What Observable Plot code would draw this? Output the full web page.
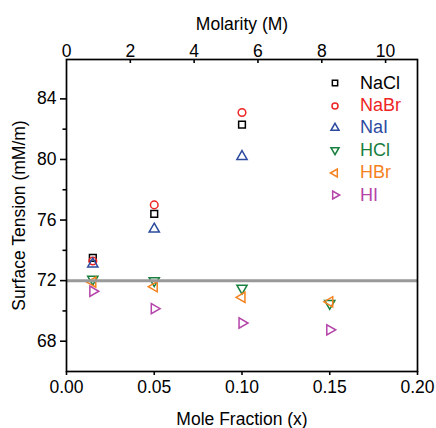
<!DOCTYPE html>
<html><head><meta charset="utf-8">
<script src="https://cdn.jsdelivr.net/npm/d3@7"></script>
<script src="https://cdn.jsdelivr.net/npm/@observablehq/plot@0.6"></script>
<style>
body{margin:0;background:#fff;}
#wrap{position:relative;width:436px;height:428px;font-family:Arial,"Liberation Sans",sans-serif;}
#legend{position:absolute;left:326px;top:72px;}
</style></head><body><div id="wrap"></div>
<script>
// ---- data ----
const moleFraction = [0.015, 0.05, 0.10, 0.15];
const series = ["NaCl", "NaBr", "NaI", "HCl", "HBr", "HI"];
const NaCl = [73.5, 76.4, 82.3];
const NaBr = [73.3, 77.0, 83.1];
const NaI = [73.1, 75.4, 80.2];
const HCl = [72.1, 72.0, 71.5, 70.5];
const HBr = [71.9, 71.6, 70.9, 70.6];
const HI = [71.3, 70.15, 69.2, 68.75];
const xTicks = [0, 0.05, 0.10, 0.15, 0.20];
const yTicks = [68, 72, 76, 80, 84];
const yMinorTicks = [70, 74, 78, 82];
const molarityTicks = [0, 2, 4, 6, 8, 10];
const molarityMax = 11;
const waterTension = 72;

// ---- styles ----
const colors = ["#000000", "#ee2424", "#2c4b9f", "#18803e", "#f5821f", "#b543a9"];
const symbols = ["square", "circle", "triangle", "triangle", "triangle", "triangle"];
const rotations = [0, 0, 0, 180, 270, 90];
const valuesBy = {NaCl, NaBr, NaI, HCl, HBr, HI};

const W = 436, H = 428, mL = 66, mR = 19, mT = 59, mB = 57;
const innerH = H - mT - mB;
const xDomain = [0, 0.20], yDomain = [66, 86.6];
const mToX = m => m / molarityMax * xDomain[1];

const marks = [];
series.forEach((name, i) => {
  const data = valuesBy[name].map((v, j) => ({x: moleFraction[j], y: v}));
  marks.push(Plot.dot(data, {x: "x", y: "y", symbol: symbols[i], rotate: rotations[i], r: 3.8,
    stroke: colors[i], strokeWidth: 1.5, fill: "none"}));
});
marks.push(Plot.ruleY([waterTension], {stroke: "#999999", strokeWidth: 3}));
marks.push(Plot.frame({stroke: "#000", strokeWidth: 1.7}));
marks.push(Plot.axisX(xTicks, {anchor: "bottom", tickSize: 4, tickPadding: 5, strokeWidth: 1.6,
  tickFormat: d3.format(".2f"), fontSize: 17.5,
  label: "Mole Fraction (x)", labelAnchor: "center", labelOffset: 53, labelArrow: "none"}));
marks.push(Plot.axisX(molarityTicks.map(mToX), {anchor: "top", tickSize: 0, tickPadding: 3,
  tickFormat: d => String(Math.round(d / xDomain[1] * molarityMax)), fontSize: 17.5,
  label: "Molarity (M)", labelAnchor: "center", labelOffset: 42, labelArrow: "none"}));
marks.push(Plot.ruleX(molarityTicks.slice(1).map(mToX), {x: d => d, insetBottom: innerH - 4, strokeWidth: 1.6}));
marks.push(Plot.axisY(yTicks, {anchor: "left", tickSize: 6, tickPadding: 4, strokeWidth: 1.6, fontSize: 17.5,
  label: "Surface Tension (mM/m)", labelAnchor: "center", labelOffset: 54, labelArrow: "none"}));
marks.push(Plot.axisY(yMinorTicks, {anchor: "left", tickSize: 3.5, strokeWidth: 1.6, tickFormat: () => "", label: null}));

const chart = Plot.plot({
  width: W, height: H, marginLeft: mL, marginRight: mR, marginTop: mT, marginBottom: mB,
  x: {domain: xDomain}, y: {domain: yDomain},
  style: {fontFamily: 'Arial, "Liberation Sans", sans-serif', fontSize: "19px", color: "#000", background: "#fff"},
  marks
});
const wrap = document.getElementById("wrap");
wrap.appendChild(chart);

// ---- legend (HTML overlay) ----
const legend = d3.select(wrap).append("div").attr("id", "legend");
series.forEach((name, i) => {
  const row = legend.append("div").style("display", "flex").style("align-items", "center").style("height", "22.4px");
  const svg = row.append("svg").attr("width", 18).attr("height", 18).style("margin-right", "16px");
  const sym = {square: d3.symbolSquare, circle: d3.symbolCircle, triangle: d3.symbolTriangle}[symbols[i]];
  svg.append("path").attr("d", d3.symbol(sym, 28)())
    .attr("transform", `translate(9,9) rotate(${rotations[i]})`)
    .attr("fill", "none").attr("stroke", colors[i]).attr("stroke-width", 1.5);
  row.append("span").text(name).style("color", colors[i]).style("font-size", "18px");
});
</script></body></html>
